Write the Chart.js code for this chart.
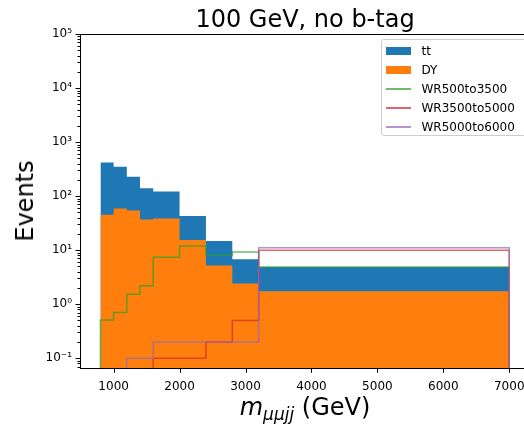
<!DOCTYPE html>
<html>
<head>
<meta charset="utf-8">
<script src="https://cdn.jsdelivr.net/npm/chart.js@4/dist/chart.umd.min.js"></script>
<style>
  html, body { margin: 0; padding: 0; background: #fff; overflow: hidden; width: 524px; height: 428px; }
  #wrap { position: relative; width: 524px; height: 428px; overflow: hidden; }
  #c { position: absolute; left: 0; top: 0; }
  .txt { position: absolute; font-family: 'DejaVu Sans'; color: #000; white-space: nowrap; }
  #title { left: 305px; top: 4.7px; font-size: 24px; line-height: 28px; transform: translateX(-50%); }
  #ylabel { left: 24.7px; top: 201px; font-size: 24px; line-height: 28px; transform: translate(-50%, -50%) rotate(-90deg); }
  #xlabel { left: 305px; top: 392.7px; font-size: 24px; line-height: 28px; transform: translateX(-50%); }
  #xlabel i { font-style: italic; }
  #xlabel sub { font-size: 17px; font-style: italic; vertical-align: -5px; line-height: 0; }
  #legend { position: absolute; left: 380.5px; top: 39px; width: 160px; height: 97px; box-sizing: border-box;
            border: 1px solid #cccccc; border-radius: 3px; background: rgba(255,255,255,0.8); }
  .lg-row { position: absolute; left: 0; height: 14px; }
  .lg-key { position: absolute; left: 4px; width: 25px; }
  .lg-txt { position: absolute; left: 40px; top: 0; font-family: 'DejaVu Sans'; font-size: 12px; line-height: 14px; white-space: nowrap; color: #000; }
</style>
</head>
<body>
<div id="wrap">
  <canvas id="c" width="540" height="428"></canvas>
  <div id="title" class="txt">100 GeV, no b-tag</div>
  <div id="ylabel" class="txt">Events</div>
  <div id="xlabel" class="txt"><i>m</i><sub>μμjj</sub> (GeV)</div>
  <div id="legend"></div>
</div>
<script>
// Histogram bin edges in m_μμjj (GeV)
const binEdges = [800, 1000, 1200, 1400, 1600, 2000, 2400, 2800, 3200, 7000];

// Background yields per bin (stacked: DY at the bottom, tt on top)
const dyEvents = [45, 59, 54, 37, 38.5, 15.4, 5.2, 2.4, 1.73];
const ttEvents = [375, 289, 173, 102, 83, 27.6, 9.5, 4.4, 3.2];

// Signal yields per bin (drawn as step outlines)
const wr500to3500  = [0.51, 0.70, 1.52, 2.2, 7.4, 11.9, 8.1, 9.2, 4.8];
const wr3500to5000 = [0, 0, 0, 0, 0.1, 0.1, 0.2, 0.5, 9.9];
const wr5000to6000 = [0, 0, 0.1, 0.1, 0.2, 0.2, 0.2, 0.2, 11.1];

// Axis ticks and ranges
const xTicks = [1000, 2000, 3000, 4000, 5000, 6000, 7000];
const X_MIN = 490, X_MAX = 7310;
const Y_MIN = 0.065, Y_MAX = 1e5;

const COLORS = {
  tt: '#1f77b4', dy: '#ff7f0e',
  green: 'rgba(44,160,44,0.7)', red: 'rgba(214,39,40,0.7)', purple: 'rgba(148,103,189,0.7)'
};

// Top edge of a filled histogram
function barTop(counts) {
  const pts = [];
  counts.forEach((v, i) => { pts.push({ x: binEdges[i], y: v }, { x: binEdges[i + 1], y: v }); });
  return pts;
}
// Full step outline (empty bins drop below the axis and get clipped)
function stepOutline(counts) {
  const below = Y_MIN / 100;
  const h = v => (v > 0 ? v : below);
  const pts = [{ x: binEdges[0], y: below }];
  counts.forEach((v, i) => { pts.push({ x: binEdges[i], y: h(v) }, { x: binEdges[i + 1], y: h(v) }); });
  pts.push({ x: binEdges[binEdges.length - 1], y: below });
  return pts;
}
const stackedTotal = ttEvents.map((v, i) => v + dyEvents[i]);

const SUP = { '-': '⁻', '0': '⁰', '1': '¹', '2': '²', '3': '³', '4': '⁴', '5': '⁵', '6': '⁶', '7': '⁷', '8': '⁸', '9': '⁹' };
const powLabel = n => '10' + String(n).split('').map(c => SUP[c]).join('');
const isDecade = v => Math.abs(Math.log10(v) - Math.round(Math.log10(v))) < 1e-9;

function logTicks() {
  const t = [];
  for (let n = -2; n <= 5; n++) {
    for (let k = 1; k <= 9; k++) {
      const v = Number((k * Math.pow(10, n)).toPrecision(6));
      if (v >= Y_MIN && v <= Y_MAX) t.push({ value: v });
    }
  }
  return t;
}

// Ticks and frame in the style of a matplotlib axes
const axisFrame = {
  id: 'axisFrame',
  afterDraw(chart) {
    const { ctx, chartArea: a, scales: { x, y } } = chart;
    ctx.save();
    ctx.strokeStyle = '#000';
    ctx.lineWidth = 1;
    ctx.beginPath();
    xTicks.forEach(v => {
      const px = Math.round(x.getPixelForValue(v)) + 0.5;
      ctx.moveTo(px, a.bottom); ctx.lineTo(px, a.bottom + 4.5);
    });
    y.ticks.forEach(t => {
      const py = Math.round(y.getPixelForValue(t.value)) + 0.5;
      ctx.moveTo(a.left, py); ctx.lineTo(a.left - (isDecade(t.value) ? 4.5 : 2.5), py);
    });
    ctx.stroke();
    ctx.strokeRect(Math.round(a.left) + 0.5, Math.round(a.top) + 0.5, a.right - a.left, Math.round(a.bottom - a.top));
    ctx.restore();
  }
};

const lineDefaults = { pointRadius: 0, borderWidth: 1.5, tension: 0, fill: false };

new Chart(document.getElementById('c'), {
  type: 'line',
  data: {
    datasets: [
      { label: 'tt', data: barTop(stackedTotal), backgroundColor: COLORS.tt, borderColor: 'rgba(0,0,0,0)', borderWidth: 0, pointRadius: 0, fill: 'start', order: 10 },
      { label: 'DY', data: barTop(dyEvents), backgroundColor: COLORS.dy, borderColor: 'rgba(0,0,0,0)', borderWidth: 0, pointRadius: 0, fill: 'start', order: 9 },
      { label: 'WR500to3500', data: stepOutline(wr500to3500), borderColor: COLORS.green, ...lineDefaults, order: 3 },
      { label: 'WR3500to5000', data: stepOutline(wr3500to5000), borderColor: COLORS.red, ...lineDefaults, order: 2 },
      { label: 'WR5000to6000', data: stepOutline(wr5000to6000), borderColor: COLORS.purple, ...lineDefaults, order: 1 }
    ]
  },
  options: {
    responsive: false,
    animation: false,
    devicePixelRatio: 1,
    layout: { padding: { top: 34, right: 10.3, left: 0, bottom: 0 } },
    plugins: { legend: { display: false }, title: { display: false }, tooltip: { enabled: false } },
    scales: {
      x: {
        type: 'linear', min: X_MIN, max: X_MAX,
        afterBuildTicks: s => { s.ticks = xTicks.map(v => ({ value: v })); },
        ticks: { callback: v => String(v), font: { family: 'DejaVu Sans', size: 12 }, color: '#000', padding: 11, maxRotation: 0, autoSkip: false },
        grid: { display: false, drawTicks: false },
        border: { display: false },
        afterFit: s => { s.height = 428 - 368.3; s.paddingLeft = 0; s.paddingRight = 0; }
      },
      y: {
        type: 'logarithmic', min: Y_MIN, max: Y_MAX,
        afterBuildTicks: s => { s.ticks = logTicks(); },
        ticks: {
          callback: v => (isDecade(v) ? powLabel(Math.round(Math.log10(v))) : ''),
          font: { family: 'DejaVu Sans', size: 12 }, color: '#000', padding: 8, autoSkip: false
        },
        grid: { display: false, drawTicks: false },
        border: { display: false },
        afterFit: s => { s.width = 80; s.paddingTop = 0; s.paddingBottom = 0; }
      }
    }
  },
  plugins: [axisFrame]
});

// Legend entries
const legendItems = [
  { name: 'tt', color: COLORS.tt, kind: 'patch' },
  { name: 'DY', color: COLORS.dy, kind: 'patch' },
  { name: 'WR500to3500', color: COLORS.green, kind: 'line' },
  { name: 'WR3500to5000', color: COLORS.red, kind: 'line' },
  { name: 'WR5000to6000', color: COLORS.purple, kind: 'line' }
];
const legend = document.getElementById('legend');
legendItems.forEach((it, i) => {
  const row = document.createElement('div');
  row.className = 'lg-row';
  row.style.top = (4 + i * 19) + 'px';
  const key = document.createElement('div');
  key.className = 'lg-key';
  if (it.kind === 'patch') {
    key.style.top = '3px'; key.style.height = '8px'; key.style.background = it.color;
  } else {
    key.style.top = '6.25px'; key.style.height = '1.5px'; key.style.background = it.color;
  }
  const label = document.createElement('div');
  label.className = 'lg-txt';
  label.textContent = it.name;
  row.appendChild(key); row.appendChild(label);
  legend.appendChild(row);
});
</script>
</body>
</html>
